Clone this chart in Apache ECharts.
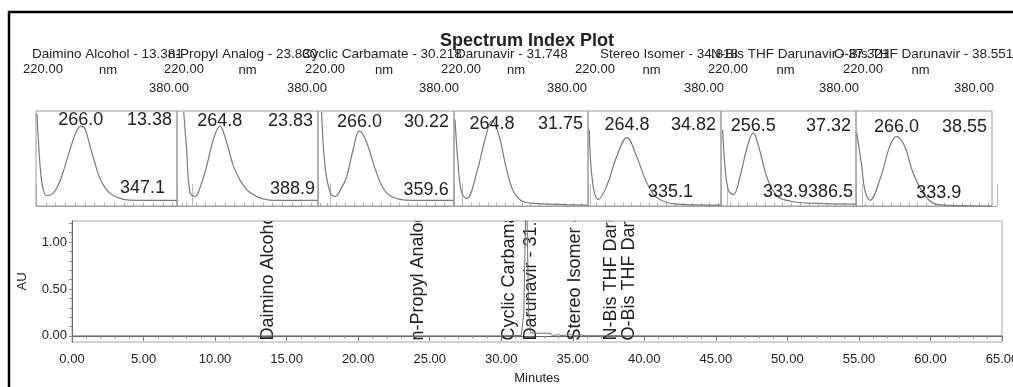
<!DOCTYPE html>
<html>
<head>
<meta charset="utf-8">
<script src="https://cdn.jsdelivr.net/npm/echarts@6/dist/echarts.min.js"></script>
<style>
  html, body { margin: 0; padding: 0; background: #fff; }
  #c { width: 1013px; height: 387px; }
</style>
</head>
<body>
<div id="c"></div>
<script>
const FONT = "'Liberation Sans', Arial, Helvetica, sans-serif";
const INK = '#222';

// Identified peaks (name, retention time in minutes)
const peakNames = ['Daimino Alcohol', 'n-Propyl Analog', 'Cyclic Carbamate', 'Darunavir',
                   'Stereo Isomer', 'N-Bis THF Darunavir', 'O-Bis THF Darunavir'];
const peakTimes = [13.381, 23.830, 30.218, 31.748, 34.818, 37.321, 38.551];

// Chromatogram trace: [minutes, AU]
const chromTrace = [
  [0, 0], [8.35, 0], [8.45, 0.02], [8.55, 0], [13.25, 0], [13.38, 0.006], [13.55, 0],
  [23.7, 0], [23.83, 0.006], [24.0, 0], [30.05, 0], [30.22, 0.008], [30.45, 0.003],
  [31.4, 0.004], [31.58, 0.25], [31.68, 1.1], [31.75, 1.7], [31.82, 1.1], [31.92, 0.25],
  [32.05, 0.04], [32.2, 0.03], [33.4, 0.028], [33.6, 0.005], [34.0, 0.012], [34.2, 0.003],
  [34.82, 0.012], [35.0, 0.003], [35.6, 0.01], [35.8, 0.002], [37.2, 0.002], [37.32, 0.008],
  [37.45, 0.002], [38.45, 0.002], [38.55, 0.008], [38.7, 0], [65, 0]
];

// UV spectra at each peak apex: [nm, relative absorbance]
const spectrum1 = [[221,0.97],[222.4,0.70],[224.8,0.35],[227.5,0.17],[231,0.11],[236,0.12],[242.9,0.22],[249.7,0.42],[256.6,0.65],[261.7,0.79],[266,0.84],[270.3,0.81],[275.4,0.63],[280.5,0.45],[285.6,0.29],[292.5,0.17],[299.3,0.11],[309.6,0.07],[323,0.06],[365,0.06]];
const spectrum2 = [[227,0.99],[230,0.60],[233.6,0.14],[238.8,0.10],[245,0.22],[251,0.42],[258,0.70],[264.8,0.84],[271,0.70],[279,0.42],[286,0.27],[293,0.17],[300,0.12],[307,0.085],[320,0.06],[367,0.06]];
const spectrum3 = [[224,0.99],[227.8,0.42],[233.3,0.15],[238.9,0.10],[245,0.17],[251.9,0.31],[259.2,0.60],[266,0.79],[274,0.67],[285,0.35],[296,0.14],[311,0.07],[325,0.06],[371,0.06]];
const spectrum4 = [[221.2,0.91],[225,0.42],[229,0.14],[235,0.08],[246.7,0.35],[256.5,0.70],[264.8,0.90],[273,0.74],[281,0.42],[289,0.17],[298.5,0.06],[310,0.03],[378,0.01]];
const spectrum5 = [[221.5,0.80],[225.4,0.24],[232,0.07],[241.5,0.21],[253,0.52],[264.8,0.72],[276,0.52],[286,0.28],[295.5,0.12],[307,0.05],[322,0.02],[373,0.01]];
const spectrum6 = [[221.9,0.80],[224.5,0.42],[228.3,0.17],[234,0.12],[241.6,0.31],[249.2,0.60],[256.5,0.77],[263.5,0.60],[273,0.28],[284.5,0.10],[299.5,0.05],[320,0.03],[373,0.02]];
const spectrum7 = [[220.8,0.77],[226.5,0.42],[230,0.17],[235.9,0.06],[247.2,0.28],[258.4,0.63],[266,0.73],[275.2,0.63],[284.7,0.35],[296,0.14],[307.4,0.03],[320,0.01],[374,0]];
const spectra = [spectrum1, spectrum2, spectrum3, spectrum4, spectrum5, spectrum6, spectrum7];

// Spectrum annotations
const lambdaMax = [266.0, 264.8, 266.0, 264.8, 264.8, 256.5, 266.0];
const secondaryLambda = [[347.1], [388.9], [359.6], [], [335.1], [333.9, 386.5], [333.9]];

// Axis ticks / labels
const wlTicks = [220, 380];
const auLabels = [0, 0.5, 1];
const auTicks = [0, 0.1, 0.2, 0.3, 0.4, 0.5, 0.6, 0.7, 0.8, 0.9, 1.0, 1.1, 1.2];

// Layout of the spectrum panels (pixels)
const boxLeft  = [36, 177, 318, 454, 588, 721, 856];
const boxRight = [177, 318, 454, 588, 721, 856, 992];
const axisEnd  = [192, 330, 462, 590, 727, 862, 997];
const BOX_TOP = 111, BOX_BOTTOM = 206;
const headerX = [32, 168, 302, 456, 600, 711, 834];
const HEADER_SIZE = 13.5;

const txt = (size, extra) => Object.assign({ fontSize: size, fontFamily: FONT, color: INK }, extra || {});

const grids = [{ left: 72, right: 11, top: 221, bottom: 45, show: true, borderColor: '#a8a8a8', borderWidth: 1,
                 outerBoundsMode: 'none', containLabel: false }];
const xAxes = [{
  gridIndex: 0, type: 'value', min: 0, max: 65, interval: 5,
  axisLine: { show: true, lineStyle: { color: '#666' } },
  axisTick: { show: true, length: 5, lineStyle: { color: '#777' } },
  minorTick: { show: true, splitNumber: 5, length: 3, lineStyle: { color: '#999' } },
  splitLine: { show: false },
  axisLabel: txt(13, { formatter: v => v.toFixed(2), margin: 11, showMaxLabel: true, showMinLabel: true }),
  name: 'Minutes', nameLocation: 'middle', nameGap: 30, nameMoveOverlap: false, nameTextStyle: txt(13)
}];
const yAxes = [{
  gridIndex: 0, type: 'value', min: -0.065, max: 1.225,
  axisLine: { show: true, lineStyle: { color: '#666' } },
  axisTick: { show: true, customValues: auTicks, length: 3, lineStyle: { color: '#888' } },
  splitLine: { show: false },
  axisLabel: txt(13, { customValues: auLabels, formatter: v => v.toFixed(2), margin: 5 }),
  name: 'AU', nameLocation: 'middle', nameRotate: 90, nameGap: 43, nameMoveOverlap: false, nameTextStyle: txt(13)
}];

const series = [
  {
    type: 'line', xAxisIndex: 0, yAxisIndex: 0, data: chromTrace, symbol: 'none',
    lineStyle: { color: '#6e6e6e', width: 1 }, clip: true, silent: true
  },
  {
    // peak names written vertically from the baseline, cut at the plot top
    type: 'custom', xAxisIndex: 0, yAxisIndex: 0, clip: true, silent: true,
    data: peakTimes.map((t, i) => [t, i]),
    renderItem(params, api) {
      const i = api.value(1);
      const p = api.coord([api.value(0), -0.05]);
      return {
        type: 'text', x: p[0] + 5, y: p[1], rotation: Math.PI / 2,
        style: {
          text: peakNames[i] + ' - ' + peakTimes[i].toFixed(3),
          fontSize: 18, fontFamily: FONT, fill: INK, align: 'left', verticalAlign: 'middle'
        }
      };
    }
  }
];

spectra.forEach((data, i) => {
  const rect = { left: boxLeft[i], top: BOX_TOP, width: axisEnd[i] - boxLeft[i], height: BOX_BOTTOM - BOX_TOP,
                 outerBoundsMode: 'none', containLabel: false };
  const g1 = grids.length, g2 = g1 + 1;
  grids.push(Object.assign({}, rect), Object.assign({}, rect));
  xAxes.push({
    gridIndex: g1, type: 'value', position: 'top', min: 220, max: 380, interval: 10,
    axisLine: { show: true, lineStyle: { color: '#aaa' } },
    axisTick: { show: true, length: 3, lineStyle: { color: '#aaa' } },
    axisLabel: { show: false }, splitLine: { show: false }
  });
  xAxes.push({
    gridIndex: g2, type: 'value', position: 'top', min: 220, max: 380,
    axisLine: { show: false },
    axisTick: { show: true, customValues: wlTicks, length: 22, lineStyle: { color: '#bbb' } },
    axisLabel: {
      show: true, customValues: wlTicks, margin: 16,
      formatter: v => (v === wlTicks[0] ? '{a|' : '{b|') + Number(v).toFixed(2) + '}',
      rich: {
        a: txt(13, { padding: [0, 0, 19, 14] }),
        b: txt(13, { padding: [0, 46, 0, 0] })
      }
    },
    splitLine: { show: false },
    name: 'nm', nameLocation: 'middle', nameGap: 34, nameMoveOverlap: false,
    nameTextStyle: txt(13, { padding: [0, 12, 0, 0] })
  });
  yAxes.push({ gridIndex: g1, type: 'value', min: 0, max: 1, show: false });
  yAxes.push({ gridIndex: g2, type: 'value', min: 0, max: 1, show: false });
  series.push({
    type: 'line', xAxisIndex: g1, yAxisIndex: g1, data, symbol: 'none', smooth: 0.4,
    lineStyle: { color: '#7a7a7a', width: 1.2 }, clip: false, silent: true
  });
});

const chart = echarts.init(document.getElementById('c'), null, { renderer: 'canvas' });
chart.setOption({
  animation: false,
  backgroundColor: '#fff',
  title: {
    text: 'Spectrum Index Plot', left: 522, top: 27, textAlign: 'center',
    textStyle: { fontSize: 18, fontWeight: 'bold', fontFamily: FONT, color: INK }
  },
  grid: grids, xAxis: xAxes, yAxis: yAxes, series
});

// Frame, panel boxes and text annotations placed through the axes' scales
const measure = document.createElement('canvas').getContext('2d');
const textWidth = (s, size) => { measure.font = size + "px 'Liberation Sans'"; return measure.measureText(s).width; };
const label = (s, x, y, size, align, extra) => Object.assign({
  type: 'text', x, y, z: 10, silent: true,
  style: { text: s, fontSize: size, fontFamily: FONT, fill: INK, align, verticalAlign: 'middle' }
}, extra || {});

const els = [];
els.push({ type: 'rect', silent: true, shape: { x: 9, y: 12, width: 1040, height: 420 },
  style: { fill: 'rgba(0,0,0,0)', stroke: '#000', lineWidth: 2.5 } });

peakNames.forEach((n, i) => {
  els.push(label(n + ' - ' + peakTimes[i].toFixed(3), headerX[i], 54, HEADER_SIZE, 'left'));
});

spectra.forEach((d, i) => {
  const xi = 1 + 2 * i;
  const px = nm => chart.convertToPixel({ xAxisIndex: xi, yAxisIndex: xi }, [nm, 0])[0];
  els.push({ type: 'rect', silent: true, z: 1,
    shape: { x: boxLeft[i], y: BOX_TOP, width: boxRight[i] - boxLeft[i], height: BOX_BOTTOM - BOX_TOP },
    style: { fill: 'rgba(0,0,0,0)', stroke: '#9a9a9a', lineWidth: 1 } });
  const topY = 120 + i * 1.2;
  els.push(label(lambdaMax[i].toFixed(1), px(lambdaMax[i]), topY, 18, 'center'));
  els.push(label(peakTimes[i].toFixed(2), boxRight[i] - 5, topY, 18, 'right'));
  const lowY = 188 + i * 0.9;
  let limit = boxRight[i] - 3;
  secondaryLambda[i].slice().sort((a, b) => b - a).forEach(nm => {
    const s = nm.toFixed(1);
    const right = Math.min(px(nm) + 5, limit);
    els.push(label(s, right, lowY, 18, 'right'));
    limit = right - textWidth(s, 18);
  });
});

chart.setOption({ graphic: { elements: els } });
</script>
</body>
</html>
